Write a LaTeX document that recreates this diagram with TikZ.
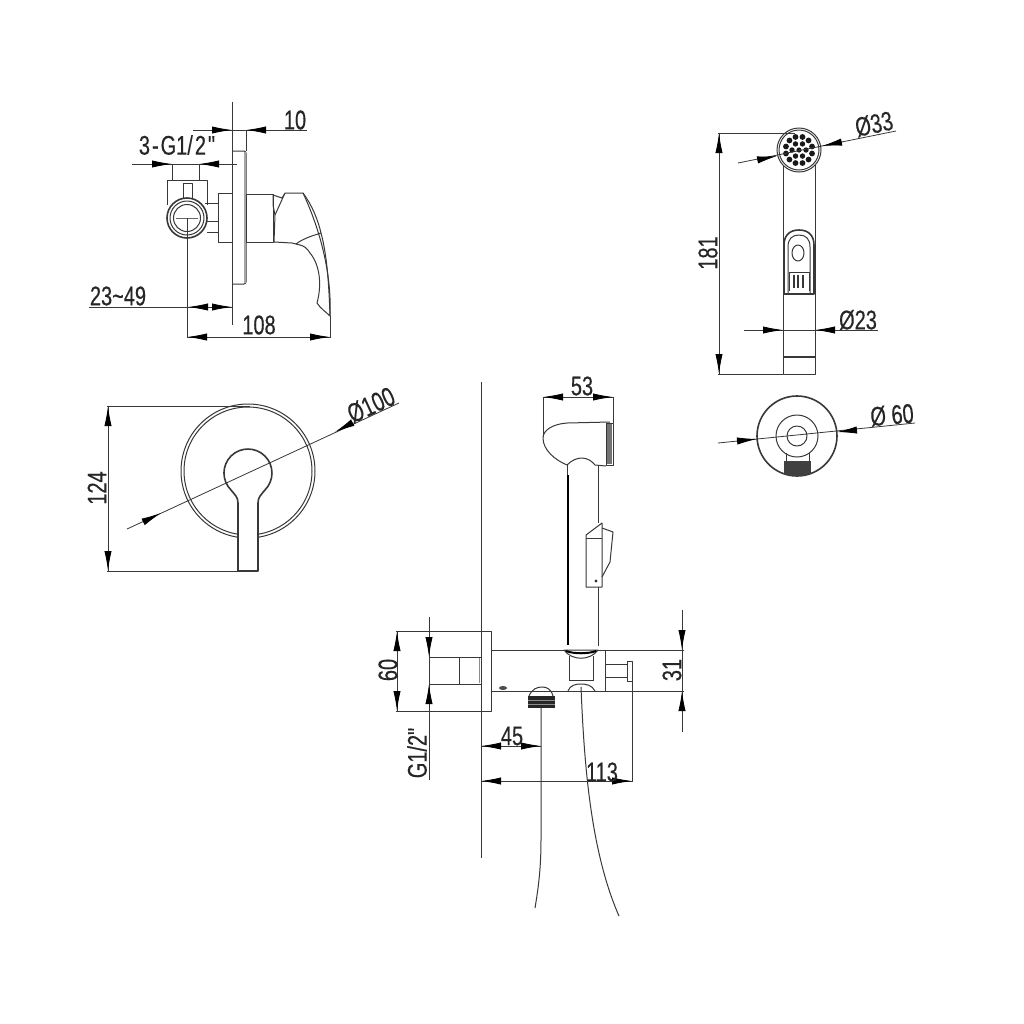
\documentclass[tikz,border=0pt]{standalone}
\usepackage{fontspec}
\newfontfamily\dimfont[FakeStretch=.74,FakeBold=.3]{Liberation Sans}
\usetikzlibrary{arrows.meta}
\definecolor{inkgray}{gray}{.22}
\tikzset{
  part/.style={draw=inkgray, line width=.5pt, line join=round},
  thick part/.style={draw=inkgray, line width=.8pt, line join=round},
  dimline/.style={draw=inkgray, line width=.4pt},
  dimtip/.style={draw=inkgray, line width=.4pt, -{Latex[length=10pt,width=3.6pt,color=black]}},
  dimlabel/.style={font=\dimfont\fontsize{13.5}{15}\selectfont, text=black!85, inner sep=0pt},
}
\begin{document}
\begin{tikzpicture}[x=.5pt, y=-.5pt]
\useasboundingbox (0,0) rectangle (1024,1024);
\fill[white] (0,0) rectangle (1024,1024);

% valve side view
\draw[dimline] (232,102) -- (232,325);
\draw[part, rounded corners=1pt] (232,151) -- (246,151) -- (246,284) -- (232,284);
\fill[black!35] (244,152) rectangle (246,283);
\draw[part] (218,193) rectangle (232,242);
\draw[part] (246,194) rectangle (273,242);
\draw[part] (205,203) -- (218,203);
\draw[part] (205,221) -- (218,221);
\draw[part] (207,232) -- (218,232);
\draw[part] (167,205) -- (167,180) -- (207,180) -- (207,205);
\draw[part] (183,198) -- (183,183) -- (192,183) -- (192,198);
\filldraw[thick part, fill=white] (187,218) circle [radius=20];
\draw[part] (187,218) circle [radius=17];
\draw[part] (187,218) circle [radius=13.5];
\draw[dimline, black!60] (176,218) -- (198,218);
\draw[part] (273,195) -- (282,198) -- (285,193) -- (303,193)
  .. controls (318,225) and (332,270) .. (330,316)
  .. controls (326,312) and (320,308) .. (317,303)
  .. controls (322,285) and (320,265) .. (310,253)
  .. controls (307,248) and (304,246) .. (300,245)
  -- (292,243) -- (274,242) -- (275,215) -- (285,193);
\draw[part] (303,193) .. controls (312,205) and (318,220) .. (321,233)
  .. controls (327,255) and (329,285) .. (330,316);
\draw[part] (296,244) .. controls (304,238) and (312,236) .. (321,233);
\draw[part] (273,195) -- (273,205) -- (275,215);

% dimensions of the side view
\draw[dimline] (193,130) -- (307,130);
\draw[dimline] (246,130) -- (246,151);
\draw[dimtip] (212,130) -- (232,130);
\draw[dimtip] (266,130) -- (246,130);
\node[dimlabel] (ten) at (295,120) {10};
\draw[dimline] (132,164) -- (237,164);
\draw[dimline] (172,164) -- (172,180);
\draw[dimline] (199,164) -- (199,180);
\draw[dimtip] (152,164) -- (172,164);
\draw[dimtip] (219,164) -- (199,164);
\node[dimlabel] (thread) at (177,145) {3\kern1pt-\kern1pt G1/\kern1pt 2\kern1pt"};
\draw[dimline] (89,307) -- (232,307);
\draw[dimline] (187,218) -- (187,338);
\draw[dimtip] (208,307) -- (188,307);
\draw[dimtip] (213,307) -- (232,307);
\node[dimlabel] (range) at (118,296) {23\char`~49};
\draw[dimline] (187,337) -- (330,337);
\draw[dimline] (330,316) -- (330,338);
\draw[dimtip] (207,337) -- (187,337);
\draw[dimtip] (310,337) -- (330,337);
\node[dimlabel] (depth) at (259,325) {108};

% valve front view
\draw[part] (248,471) circle [radius=67];
\draw[part] (248,471) circle [radius=64];
\filldraw[thick part, fill=white] (238,571) -- (238,503) .. controls (238,497) and (235,495) .. (231,490)
  arc [start angle=135, end angle=405, radius=24]
  .. controls (261,495) and (258,497) .. (258,503) -- (258,571) -- cycle;
\draw[dimline] (107,406) -- (250,406);
\draw[dimline] (107,571) -- (238,571);
\draw[dimline] (108,406) -- (108,571);
\draw[dimtip] (108,426) -- (108,406);
\draw[dimtip] (108,551) -- (108,571);
\node[dimlabel, rotate=90] (height) at (97,488) {124};
\draw[dimline] (127,529) -- (399,403);
\draw[dimtip] (145,521) -- (161,513);
\draw[dimtip] (352,423) -- (335,432);
\node[dimlabel, rotate=25] (plate) at (371,405) {Ø100};

% spray head seen from the front
\draw[part] (783,165) -- (783,374) -- (815,374) -- (815,165);
\draw[thick part] (783,357) -- (815,357);
\filldraw[part, fill=white] (799,150) circle [radius=22];
\draw[part] (799,150) circle [radius=20];
\fill[black!90] (799,150) circle [radius=2.6];
\foreach \a in {0,60,...,300}
  \fill[black!90] (799,150) ++(\a:7) circle [radius=2.7];
\foreach \a in {15,45,...,345}
  \fill[black!90] (799,150) ++(\a:13.5) circle [radius=2.9];
\draw[thick part] (784,294) -- (784,245) .. controls (784,235) and (790,230) .. (799,230)
  .. controls (808,230) and (814,235) .. (814,245) -- (814,294) -- cycle;
\draw[part] (788,294) -- (788,247) .. controls (788,239) and (792,235) .. (799,235)
  .. controls (806,235) and (810,239) .. (810,247) -- (810,294);
\draw[part] (798,253) ellipse [x radius=6, y radius=8];
\draw[part] (789,291) -- (789,272) -- (809,272) -- (809,291);
\foreach \x in {794,798,803}
  \draw[thick part] (\x,275) -- (\x,288);
\draw[dimline] (718,133) -- (795,133);
\draw[dimline] (718,374) -- (783,374);
\draw[dimline] (719,133) -- (719,374);
\draw[dimtip] (719,153) -- (719,133);
\draw[dimtip] (719,354) -- (719,374);
\node[dimlabel, rotate=90] (length) at (708,253) {181};
\draw[dimline] (738,163) -- (896,131);
\draw[dimtip] (757,160) -- (777,156);
\draw[dimtip] (842,142) -- (822,146);
\node[dimlabel, rotate=12] (head) at (874,124) {Ø33};
\draw[dimline] (744,330) -- (878,330);
\draw[dimtip] (763,330) -- (783,330);
\draw[dimtip] (835,330) -- (815,330);
\node[dimlabel] (grip) at (858,320) {Ø23};

% wall bracket
\draw[thick part] (797,436) circle [radius=40];
\draw[part] (797,436) circle [radius=21];
\draw[part] (797,436) circle [radius=10];
\draw[part] (786,453) -- (786,461);
\draw[part] (809,453) -- (809,461);
\begin{scope}
\clip (797,436) circle [radius=40];
\fill[black!75] (784,461) rectangle (811,476);
\end{scope}
\draw[dimline] (718,443) -- (915,423);
\draw[dimtip] (737,441) -- (757,439);
\draw[dimtip] (857,430) -- (837,432);
\node[dimlabel, rotate=5] (bracket) at (892,415) {Ø 60};

% spray with holder and wall
\draw[dimline] (481,382) -- (481,858);
\draw[part] (396,631) -- (491,631) -- (491,711) -- (396,711);
\draw[dimline] (397,631) -- (397,711);
\draw[dimtip] (397,651) -- (397,631);
\draw[dimtip] (397,691) -- (397,711);
\node[dimlabel, rotate=90] (inlet) at (388,670) {60};
\draw[dimline] (429,617) -- (429,780);
\draw[dimtip] (429,637) -- (429,657);
\draw[dimtip] (429,705) -- (429,684);
\node[dimlabel, rotate=90] (pipe) at (417,753) {G1/2"};
\draw[part] (429,657) -- (481,657);
\draw[part] (429,684) -- (481,684);
\draw[part] (459,657) -- (459,684);
\draw[dimline, black!45] (479,658) -- (479,683);
\draw[part] (491,650) -- (684,650);
\draw[part] (491,691) -- (684,691);
\fill[black!70] (503,688) ellipse [x radius=4, y radius=2];
\draw[dimline] (682,610) -- (682,732);
\draw[dimtip] (682,630) -- (682,650);
\draw[dimtip] (682,712) -- (682,691);
\node[dimlabel, rotate=90] (mount) at (672,670) {31};

% hose nut and hoses
\draw[part] (529,696) .. controls (532,689) and (537,687) .. (542,687)
  .. controls (547,687) and (551,689) .. (553,696);
\fill[black!85] (528,696) rectangle (555,708);
\foreach \y in {700,704}
  \draw[black!45, line width=.25pt] (528,\y) -- (555,\y);
\draw[part] (541,708) -- (541,840) .. controls (541,870) and (538,890) .. (535,908);
\draw[part] (581,687) .. controls (584,760) and (590,850) .. (619,916);

% holder
\filldraw[part, fill=white] (564,650) .. controls (572,661) and (590,661) .. (598,650) -- cycle;
\draw[draw=black, line width=1pt] (566,651) .. controls (574,654) and (588,654) .. (596,651);
\draw[part] (569,656) -- (569,681);
\draw[part] (593,656) -- (593,681);
\draw[part] (569,680) -- (593,680);
\draw[part] (568,691) .. controls (570,685) and (576,684) .. (581,684)
  .. controls (586,684) and (592,685) .. (595,691);
\draw[part] (605,650) -- (605,691);
\draw[part] (605,664) rectangle (627,677);
\draw[part] (627,661) rectangle (632,681);

% spray side view
\draw[part] (610,422) -- (567,423) .. controls (553,424) and (543,430) .. (543,438)
  .. controls (543,450) and (555,460) .. (567,465)
  .. controls (572,460) and (577,458) .. (582,458)
  .. controls (587,458) and (592,461) .. (595,465) -- (606,466);
\draw[part] (606,423) rectangle (613,465);
\fill[black!55] (607,424) rectangle (612,464);
\draw[part] (567,465) -- (567,475);
\draw[draw=black, line width=1.3pt] (568,475) -- (568,645);
\draw[part] (598,466) -- (598,523);
\draw[part] (598,587) -- (598,646);
\draw[part] (586,535) -- (602,523) -- (602,587) -- (586,587) -- cycle;
\draw[part] (586,538) -- (602,538);
\draw[part] (602,528) -- (613,532) -- (610,562) -- (602,577);
\fill[black!80] (596,581) circle [radius=1.6];
\draw[dimline] (543,397) -- (613,397);
\draw[dimline] (543,397) -- (543,437);
\draw[dimline] (613,397) -- (613,423);
\draw[dimtip] (563,397) -- (543,397);
\draw[dimtip] (593,397) -- (613,397);
\node[dimlabel] (width) at (582,386) {53};

% dimensions under the holder
\draw[dimline] (632,681) -- (632,782);
\draw[dimline] (481,746) -- (541,746);
\draw[dimtip] (501,746) -- (481,746);
\draw[dimtip] (521,746) -- (541,746);
\node[dimlabel] (nut) at (512,736) {45};
\draw[dimline] (481,781) -- (632,781);
\draw[dimtip] (501,781) -- (481,781);
\draw[dimtip] (612,781) -- (632,781);
\node[dimlabel] (reach) at (602,772) {113};
\end{tikzpicture}
\end{document}
